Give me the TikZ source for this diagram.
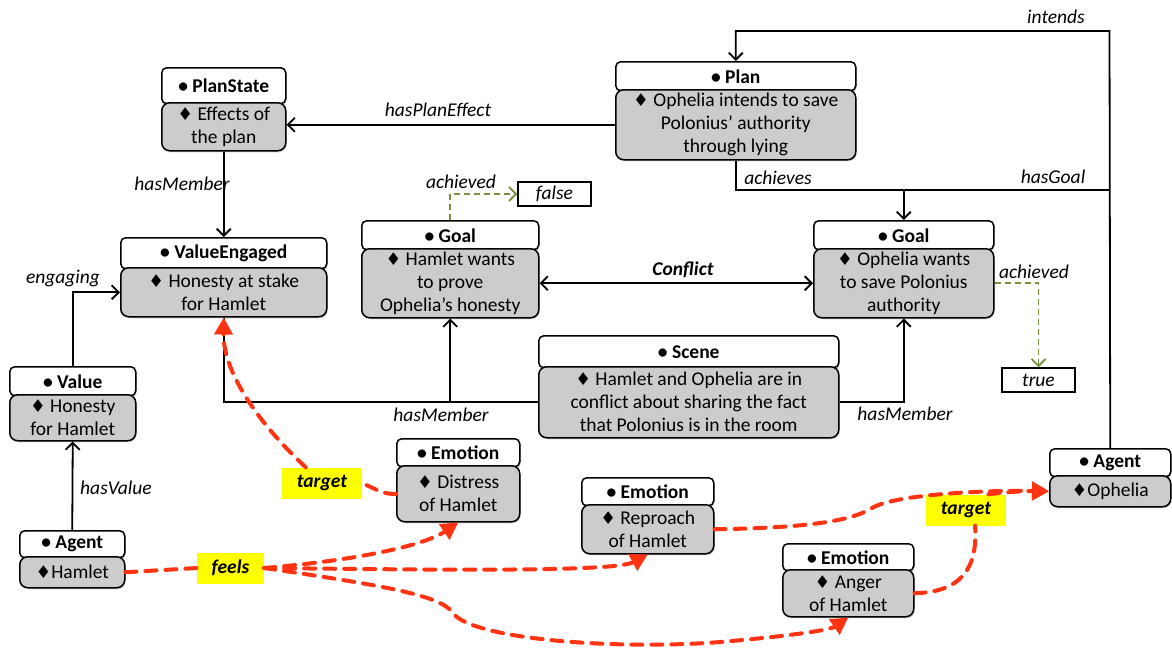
\documentclass[tikz,border=0pt]{standalone}
\usepackage{fontspec}
\setmainfont{Carlito}
\newfontfamily\symf[Scale=0.9]{DejaVu Sans}
\usetikzlibrary{arrows.meta,shadows}
\definecolor{boxgray}{RGB}{204,204,204}
\definecolor{redd}{RGB}{255,51,17}
\definecolor{greenline}{RGB}{118,146,60}
\definecolor{hlyellow}{RGB}{255,255,0}
\newcommand\fs{\fontsize{19.5}{23}\selectfont}
\newcommand\diamsym{{\symf ♦}}
% name, x, ytop, width, header height, body height, title, body
\newcommand\cbox[8]{%
  \node[hdr, minimum width=#4pt, minimum height=#5pt, anchor=north west] (#1h) at (#2,#3) {\textbullet\ #7};
  \node[bodybox, minimum width=#4pt, minimum height=#6pt, anchor=north west] (#1) at (#2,#3+#5-1) {#8};
}
\tikzset{
  hdr/.style={draw, line width=1.5pt, rounded corners=5pt, fill=white, inner sep=1pt,
    font=\fs\bfseries, drop shadow={shadow xshift=1pt, shadow yshift=-1.5pt, opacity=0.35}},
  bodybox/.style={draw, line width=1.5pt, rounded corners=8pt, fill=boxgray, align=center,
    inner sep=1pt, font=\fs, drop shadow={shadow xshift=1pt, shadow yshift=-1.5pt, opacity=0.35}},
  edge/.style={line width=1.8pt, -{Straight Barb[length=7pt,width=14pt]}},
  plainline/.style={line width=1.8pt},
  lbl/.style={font=\fs\itshape, inner sep=1pt},
  valbox/.style={draw, line width=1.5pt, minimum width=73pt, minimum height=24pt, font=\fs\itshape, inner sep=0pt},
  ach/.style={greenline, line width=1.8pt, dash pattern=on 6pt off 4pt, -{Straight Barb[length=7pt,width=14pt]}},
  rdash/.style={redd, line width=4pt, line cap=round, dash pattern=on 11pt off 9pt},
  rarrow/.style={rdash, -{Triangle[length=17pt,width=18pt]}},
  hl/.style={fill=hlyellow, font=\fs\bfseries\itshape, inner sep=0pt, minimum height=31pt}
}
\begin{document}
\begin{tikzpicture}[x=1pt,y=-1pt]
\useasboundingbox (0,0) rectangle (1172,651);

% class boxes
\cbox{planState}{161}{67}{124}{36}{48}{PlanState}{\diamsym\ Effects of\\the plan}
\cbox{plan}{615}{61}{240}{29}{70}{Plan}{\diamsym\ Ophelia intends to save\\Polonius’ authority\\through lying}
\cbox{valueEng}{120}{237}{206}{31}{49}{ValueEngaged}{\diamsym\ Honesty at stake\\for Hamlet}
\cbox{goalH}{361}{220}{177}{29}{69}{Goal}{\diamsym\ Hamlet wants\\to prove\\Ophelia’s honesty}
\cbox{goalO}{813}{220}{180}{29}{69}{Goal}{\diamsym\ Ophelia wants\\to save Polonius\\authority}
\cbox{scene}{538}{335}{300}{32}{71}{Scene}{\diamsym\ Hamlet and Ophelia are in\\conflict about sharing the fact\\that Polonius is in the room}
\cbox{value}{9}{366}{126}{29}{46}{Value}{\diamsym\ Honesty\\for Hamlet}
\cbox{agentH}{19}{530}{105}{27}{31}{Agent}{\diamsym Hamlet}
\cbox{distress}{396}{438}{123}{28}{56}{Emotion}{\diamsym\ Distress\\of Hamlet}
\cbox{reproach}{581}{477}{132}{28}{49}{Emotion}{\diamsym\ Reproach\\of Hamlet}
\cbox{anger}{782}{543}{131}{27}{47}{Emotion}{\diamsym\ Anger\\of Hamlet}
\cbox{agentO}{1049}{448}{121}{28}{31}{Agent}{\diamsym Ophelia}

\node[valbox] (fb) at (554.5,194) {false};
\node[valbox] (tb) at (1038.5,380) {true};

% black connectors
\coordinate (ic) at (1109.5,31);
\coordinate (hg) at (1109.5,190);
\draw[edge] (agentOh.north) -- (ic) -| (planh.north);
\draw[plainline] (hg) -- (goalOh.north |- hg);
\draw[edge] (plan.south) |- (goalOh.north |- hg) -- (goalOh.north);
\draw[edge] (plan.west) -- (plan.west -| planState.east);
\draw[edge] (planState.south) -- (planState.south |- valueEngh.north);
\draw[edge] (valueh.north) |- (valueEng.west);
\draw[edge] (agentHh.north) -- (value.south);
\draw[line width=1.8pt, {Straight Barb[length=7pt,width=14pt]}-{Straight Barb[length=7pt,width=14pt]}] (goalH.east) -- (goalO.west);
\draw[plainline] (scene.west) -| (valueEng.south);
\draw[edge] (goalH.south |- scene.west) -- (goalH.south);
\draw[edge] (scene.east) -| (goalO.south);

% achieved
\draw[ach] (goalHh.north) |- (fb.west);
\draw[ach] (goalO.east) -| (tb.north);

% labels
\node[lbl] (lint) at (1056,17) {intends};
\node[lbl] (lpe) at (438,110) {hasPlanEffect};
\node[lbl] (lhm1) at (182,184) {hasMember};
\node[lbl] (leng) at (63,278) {engaging};
\node[lbl] (lhv) at (116,488) {hasValue};
\node[lbl] (lach1) at (461,182) {achieved};
\node[lbl] (lachs) at (778,178) {achieves};
\node[lbl] (lhg) at (1053,177) {hasGoal};
\node[lbl, font=\fs\bfseries\itshape] (lconf) at (683,270) {Conflict};
\node[lbl] (lach2) at (1034,272) {achieved};
\node[lbl] (lhm2) at (441,415) {hasMember};
\node[lbl] (lhm3) at (905,414) {hasMember};

% highlighted labels
\node[hl, minimum width=80pt] (t1) at (322,483) {target};
\node[hl, minimum width=67pt] (fe) at (230.5,568) {feels};
\node[hl, minimum width=80pt] (t2) at (966,510) {target};

% red dashed relations
\draw[rdash] (agentH.east) -- (fe.west);
\draw[rarrow] (fe.east) .. controls (360,560) and (425,545) .. (distress.south);
\draw[rarrow] (fe.east) .. controls (450,570) and (615,572) .. (reproach.south);
\draw[rarrow] (fe.east) .. controls (380,585) and (440,595) .. (452,612) .. controls (470,640) and (620,650) .. (720,642) .. controls (790,636) and (830,630) .. (anger.south);
\draw[rdash] (distress.west) .. controls (385,495) and (375,489) .. (t1.east);
\draw[rarrow] (t1.136) .. controls (255,420) and (223,370) .. (valueEng.south);
\draw[rarrow] (reproach.east) .. controls (800,528) and (850,522) .. (872,508) .. controls (895,494) and (990,490) .. (agentO.west);
\draw[rdash] (anger.east) .. controls (960,592) and (978,570) .. (t2.300);
\draw[rarrow] (t2.35) .. controls (1005,492) and (1025,491) .. (agentO.west);
\end{tikzpicture}
\end{document}
